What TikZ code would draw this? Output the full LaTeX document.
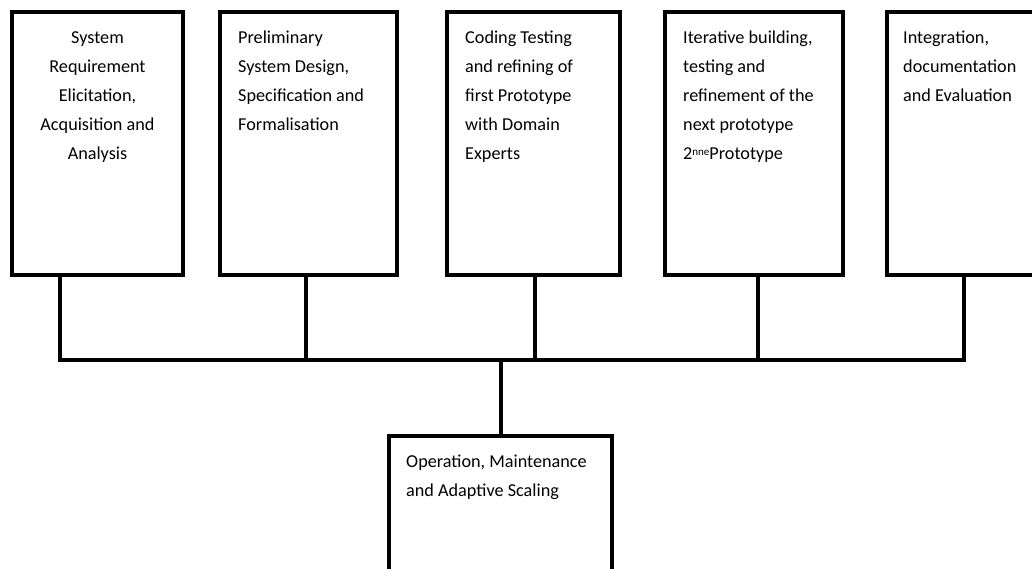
\documentclass[tikz,border=0pt]{standalone}
\usepackage{fontspec}
\setmainfont{Carlito}
\begin{document}
\begin{tikzpicture}[x=1pt,y=-1pt,
  stagebox/.style={draw, line width=4.5pt, inner sep=0pt, outer sep=0pt, anchor=north west},
  stagetext/.style={inner sep=0pt, font=\fontsize{18.2}{29}\selectfont},
  conn/.style={line width=3.5pt}]
\useasboundingbox (0,0) rectangle (1032,568);
\clip (0,0) rectangle (1032,568);
\fill[white] (0,0) rectangle (1032,568);
% boxes
\node[stagebox, minimum width=171pt, minimum height=263pt] (b1) at (12,12) {};
\node[stagebox, minimum width=177pt, minimum height=263pt] (b2) at (220,12) {};
\node[stagebox, minimum width=173pt, minimum height=263pt] (b3) at (447,12) {};
\node[stagebox, minimum width=178pt, minimum height=263pt] (b4) at (665,12) {};
\node[stagebox, minimum width=200pt, minimum height=263pt] (b5) at (887,12) {};
\node[stagebox, minimum width=223pt, minimum height=200pt] (b6) at (389,436) {};
% texts (first baseline at 43 -> top of strut at 43-20.3)
\node[stagetext, anchor=north, align=center] (t1) at (97.5,22.7) {\strut System\\Requirement\\Elicitation,\\Acquisition and\\Analysis};
\node[stagetext, anchor=north west, align=left] (t2) at (238,22.7) {\strut Preliminary\\System Design,\\Specification and\\Formalisation};
\node[stagetext, anchor=north west, align=left] (t3) at (465,22.7) {\strut Coding Testing\\and refining of\\first Prototype\\with Domain\\Experts};
\node[stagetext, anchor=north west, align=left] (t4) at (683,22.7) {\strut Iterative building,\\testing and\\refinement of the\\next prototype\\2{\fontsize{11}{11}\selectfont\raisebox{3.5pt}{nne}}Prototype};
\node[stagetext, anchor=north west, align=left] (t5) at (903,22.7) {\strut Integration,\\documentation\\and Evaluation};
\node[stagetext, anchor=north west, align=left] (t6) at (406,446.7) {\strut Operation, Maintenance\\and Adaptive Scaling};
% junctions
\coordinate (j1) at (60,360);
\coordinate (j2) at (306,360);
\coordinate (j3) at (535,360);
\coordinate (j4) at (758,360);
\coordinate (j5) at (964,360);
\coordinate (j0) at (501,360);
\draw[conn] (b1.south -| j1) -- (j1);
\draw[conn] (b2.south -| j2) -- (j2);
\draw[conn] (b3.south -| j3) -- (j3);
\draw[conn] (b4.south -| j4) -- (j4);
\draw[conn] (b5.south -| j5) -- (j5);
\draw[conn] ([xshift=-1.75pt]j1) -- ([xshift=1.75pt]j5);
\draw[conn] (j0) -- (b6.north -| j0);
\end{tikzpicture}
\end{document}
